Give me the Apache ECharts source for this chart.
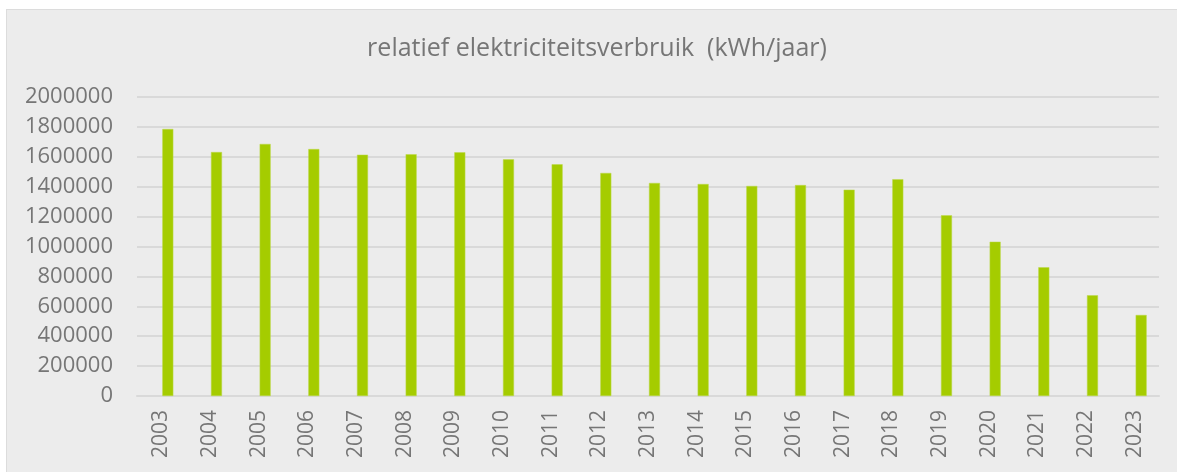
<!DOCTYPE html>
<html>
<head>
<meta charset="utf-8">
<script src="https://cdn.jsdelivr.net/npm/echarts@6/dist/echarts.min.js"></script>
<style>
  html, body { margin: 0; padding: 0; background: #ffffff; overflow: hidden; }
  #chart {
    position: absolute;
    left: 6px;
    top: 9px;
    width: 1180px;
    height: 470px;
    border: 1px solid #dcdcdc;
    background: #ececec;
  }
</style>
</head>
<body>
<div id="chart"></div>
<script>
// jaren
const years = ['2003', '2004', '2005', '2006', '2007', '2008', '2009', '2010', '2011', '2012',
  '2013', '2014', '2015', '2016', '2017', '2018', '2019', '2020', '2021', '2022', '2023']

// relatief elektriciteitsverbruik (kWh/jaar)
const verbruik = [1786000, 1632000, 1686000, 1652000, 1614000, 1617000, 1630000, 1583000, 1550000, 1492000,
  1425000, 1418000, 1405000, 1411000, 1380000, 1450000, 1209000, 1032000, 861000, 674000, 542000]

// lege reeks: in het origineel staan de staven iets rechts van het midden
const leeg = years.map(() => null)

const titleText = 'relatief elektriciteitsverbruik  (kWh/jaar)'

const textColor = '#767676'
const fontFamily = '"Open Sans", "Noto Sans", sans-serif'

const chart = echarts.init(document.getElementById('chart'))

chart.setOption({
  animation: false,
  backgroundColor: '#ececec',
  title: {
    text: titleText,
    left: 'center',
    top: 21,
    textStyle: {
      color: textColor,
      fontFamily: fontFamily,
      fontSize: 25,
      fontWeight: 'normal',
    },
  },
  grid: {
    left: 130,
    right: 28,
    top: 87,
    bottom: 84,
  },
  xAxis: {
    type: 'category',
    data: years,
    axisLine: { lineStyle: { color: '#d9d9d9', width: 2 } },
    axisTick: { show: false },
    axisLabel: {
      rotate: 90,
      margin: 14,
      color: textColor,
      fontFamily: fontFamily,
      fontSize: 21,
    },
  },
  yAxis: {
    type: 'value',
    min: 0,
    max: 2000000,
    interval: 200000,
    axisLine: { show: false },
    axisTick: { show: false },
    splitLine: { lineStyle: { color: '#d9d9d9', width: 2 } },
    axisLabel: {
      margin: 24,
      color: textColor,
      fontFamily: fontFamily,
      fontSize: 22,
      // geen duizendtalscheiding, zoals in het origineel
      formatter: (value) => String(value),
    },
  },
  series: [
    {
      type: 'bar',
      data: leeg,
      barWidth: 11,
      barGap: '18%',
      silent: true,
    },
    {
      type: 'bar',
      data: verbruik,
      barWidth: 11,
      barGap: '18%',
      itemStyle: {
        color: '#a5cc00',
        borderColor: '#bcd94a',
        borderWidth: 0.5,
      },
    },
  ],
})
</script>
</body>
</html>
